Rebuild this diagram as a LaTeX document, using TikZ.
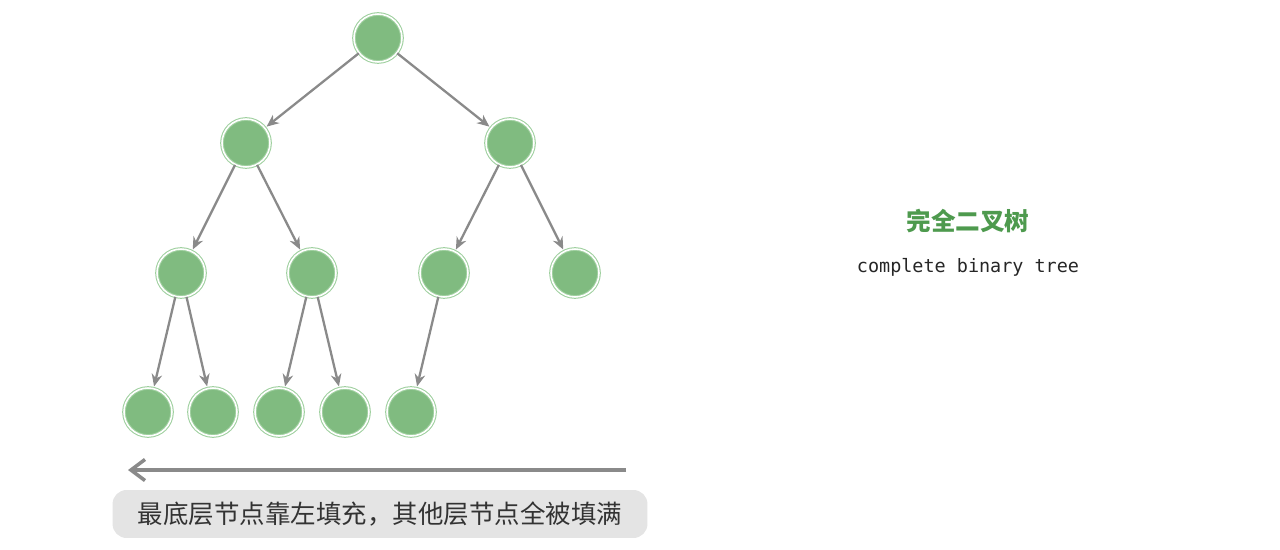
\documentclass[tikz,border=0pt]{standalone}
\usepackage{fontspec}
\usetikzlibrary{arrows.meta}
\newfontfamily\cjk{Noto Sans CJK SC}
\newfontfamily\monofont{DejaVu Sans Mono}
\definecolor{nodegreen}{HTML}{80BB80}
\definecolor{ringgreen}{HTML}{9FD09F}
\definecolor{edgegray}{HTML}{8A8A8A}
\definecolor{titlegreen}{HTML}{4E9A4E}
\definecolor{boxgray}{HTML}{E4E4E4}
\begin{document}
\begin{tikzpicture}[x=0.02cm,y=-0.02cm,
  tree node/.style={circle, minimum size=0.96cm, inner sep=0pt, fill=nodegreen, draw=ringgreen, double=white, double distance=0.9pt, line width=0.6pt},
  tree edge/.style={-{Stealth[length=7pt,width=6pt]}, draw=edgegray, line width=1.3pt, shorten >=1pt}]
  \useasboundingbox (0,0) rectangle (1280,550);
  % Nodes
  \node [tree node] (1) at (378,38) {};
  \node [tree node] (2) at (246,143) {};
  \node [tree node] (3) at (510,143) {};
  \node [tree node] (4) at (181,273) {};
  \node [tree node] (5) at (312,273) {};
  \node [tree node] (6) at (444,273) {};
  \node [tree node] (7) at (575,273) {};
  \node [tree node] (8) at (148,412) {};
  \node [tree node] (9) at (213,412) {};
  \node [tree node] (10) at (279,412) {};
  \node [tree node] (11) at (345,412) {};
  \node [tree node] (12) at (411,412) {};

  \path[tree edge]
  (1) edge (2) edge (3)
  (2) edge (4) edge (5)
  (3) edge (6) edge (7)
  (4) edge (8) edge (9)
  (5) edge (10) edge (11)
  (6) edge (12);

  % Fill direction
  \coordinate (r) at (626,470);
  \coordinate (l) at (128,470);
  \draw[-{Straight Barb[length=8pt,width=12pt]}, draw=edgegray, line width=2pt] (r) -- (l);
  \node [fill=boxgray, rounded corners=8pt, minimum width=10.7cm, minimum height=0.96cm, font=\cjk\fontsize{14.5}{16}\selectfont, text=black!80] (cap) at (380,514) {最底层节点靠左填充，其他层节点全被填满};

  \node [font=\cjk\bfseries\fontsize{14}{16}\selectfont, text=titlegreen] (title) at (968,221) {完全二叉树};
  \node [font=\monofont\fontsize{10.5}{12}\selectfont, text=black!85] (sub) at (968,267) {complete binary tree};
\end{tikzpicture}
\end{document}
